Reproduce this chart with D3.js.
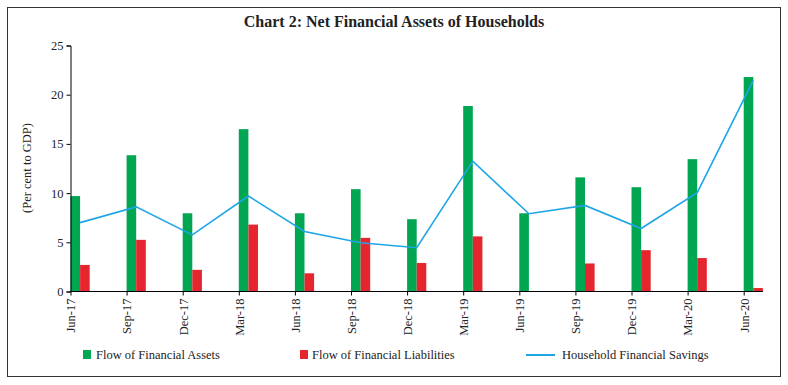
<!DOCTYPE html>
<html><head><meta charset="utf-8">
<script src="https://cdn.jsdelivr.net/npm/d3@7"></script>
<style>
body{margin:0;background:#fff;}
svg{display:block;font-family:"Liberation Serif","DejaVu Serif",serif;}
</style></head>
<body><svg id="c" width="788" height="385"></svg>
<script>
const categories = ["Jun-17","Sep-17","Dec-17","Mar-18","Jun-18","Sep-18","Dec-18","Mar-19","Jun-19","Sep-19","Dec-19","Mar-20","Jun-20"];
const assets = [9.7,13.85,7.95,16.5,7.95,10.4,7.35,18.85,7.95,11.6,10.6,13.45,21.8];
const liabilities = [2.7,5.25,2.2,6.8,1.85,5.45,2.9,5.6,0.05,2.85,4.2,3.4,0.35];
const savings = [7.0,8.6,5.75,9.7,6.1,4.95,4.45,13.25,7.9,8.75,6.4,10.05,21.45];
const yTicks = [0,5,10,15,20,25];

const svg = d3.select("#c");
svg.append("rect").attr("x",7.5).attr("y",7.5).attr("width",773).attr("height",369)
  .attr("fill","#fff").attr("stroke","#333").attr("stroke-width",1);

svg.append("text").attr("x",394).attr("y",27).attr("text-anchor","middle")
  .attr("font-size",16).attr("font-weight","bold").attr("fill","#222")
  .text("Chart 2: Net Financial Assets of Households");

const x0 = 70.5, step = 56.1;
const x = d3.scalePoint().domain(categories).range([x0, x0 + step*(categories.length-1)]);
const y = d3.scaleLinear().domain([0,25]).range([291.5,45.5]);
const bw = 9.6;

const g = svg.append("g");
g.selectAll("rect.a").data(assets).join("rect").attr("class","a")
  .attr("x",(d,i)=>x(categories[i])).attr("width",bw)
  .attr("y",d=>y(d)).attr("height",d=>y(0)-y(d)).attr("fill","#00a651");
g.selectAll("rect.l").data(liabilities).join("rect").attr("class","l")
  .attr("x",(d,i)=>x(categories[i])+bw).attr("width",bw)
  .attr("y",d=>y(d)).attr("height",d=>y(0)-y(d)).attr("fill","#e5262f");

const line = d3.line().x((d,i)=>x(categories[i])+bw).y(d=>y(d));
g.append("path").datum(savings).attr("d",line).attr("fill","none")
  .attr("stroke","#1ea5e8").attr("stroke-width",1.6);

// y axis
const ya = svg.append("g").attr("transform",`translate(${x0},0)`)
  .call(d3.axisLeft(y).tickValues(yTicks).tickSize(4).tickPadding(3));
ya.select(".domain").attr("stroke","#000");
ya.selectAll("text").attr("font-size",12.5).attr("fill","#222").attr("font-family","Liberation Serif");

// x axis
const xa = svg.append("g").attr("transform",`translate(0,${y(0)})`)
  .call(d3.axisBottom(x).tickSize(4).tickPadding(4).tickSizeOuter(0));
xa.select(".domain").attr("d",`M${x0},0H${x(categories[categories.length-1])+2*bw}`).attr("stroke","#000");
xa.selectAll("text").attr("font-size",12.5).attr("fill","#222").attr("font-family","Liberation Serif")
  .attr("transform","rotate(-90)").attr("text-anchor","end").attr("dx",0).attr("dy","0.35em").attr("y",0).attr("x",-7);

svg.append("text").attr("transform","translate(31,168) rotate(-90)").attr("text-anchor","middle")
  .attr("font-size",12.5).attr("fill","#222").text("(Per cent to GDP)");

// legend
const ly = 355;
const leg = svg.append("g");
leg.append("rect").attr("x",83).attr("y",ly-5).attr("width",8).attr("height",9).attr("fill","#00a651");
leg.append("text").attr("x",96).attr("y",ly+4).attr("font-size",12.5).attr("fill","#222").text("Flow of Financial Assets");
leg.append("rect").attr("x",300).attr("y",ly-5).attr("width",8).attr("height",9).attr("fill","#e5262f");
leg.append("text").attr("x",312).attr("y",ly+4).attr("font-size",12.5).attr("fill","#222").text("Flow of Financial Liabilities");
leg.append("line").attr("x1",526).attr("x2",555).attr("y1",ly).attr("y2",ly).attr("stroke","#1ea5e8").attr("stroke-width",2);
leg.append("text").attr("x",562).attr("y",ly+4).attr("font-size",12.5).attr("fill","#222").text("Household Financial Savings");
</script></body></html>
